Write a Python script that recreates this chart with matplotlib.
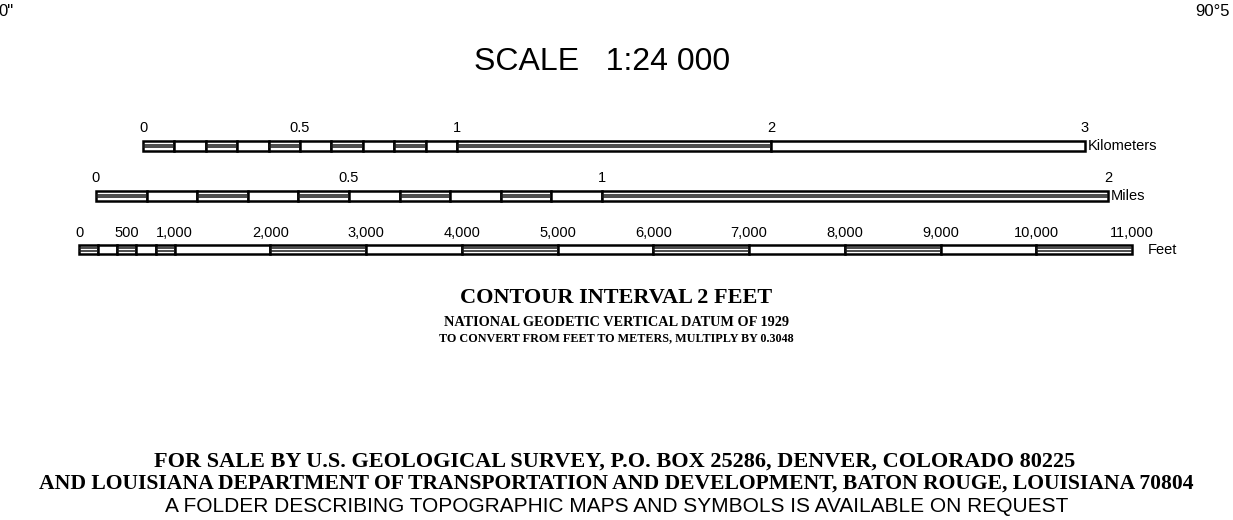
import matplotlib
matplotlib.use("Agg")
import matplotlib.pyplot as plt
from matplotlib.patches import Rectangle
from matplotlib.transforms import ScaledTranslation

W, H = 1233, 520

# scale bar data (in each bar's own units)
km_ticks = [0, 0.5, 1, 2, 3]
km_tick_labels = ["0", "0.5", "1", "2", "3"]
km_edges = [0, 0.1, 0.2, 0.3, 0.4, 0.5, 0.6, 0.7, 0.8, 0.9, 1, 2, 3]

mi_ticks = [0, 0.5, 1, 2]
mi_tick_labels = ["0", "0.5", "1", "2"]
mi_edges = [0, 0.1, 0.2, 0.3, 0.4, 0.5, 0.6, 0.7, 0.8, 0.9, 1, 2]

ft_ticks = [0, 500, 1000, 2000, 3000, 4000, 5000, 6000, 7000, 8000, 9000, 10000, 11000]
ft_tick_labels = ["0", "500", "1,000", "2,000", "3,000", "4,000", "5,000", "6,000",
                  "7,000", "8,000", "9,000", "10,000", "11,000"]
ft_edges = [0, 200, 400, 600, 800, 1000, 2000, 3000, 4000, 5000, 6000, 7000,
            8000, 9000, 10000, 11000]

fig = plt.figure(figsize=(W / 100, H / 100), dpi=100)
fig.patch.set_facecolor("white")
bg = fig.add_axes([0, 0, 1, 1])
bg.set_xlim(0, W)
bg.set_ylim(H, 0)
bg.axis("off")

sans = "Liberation Sans"
serif = "Liberation Serif"


def scale_bar(edges, ticks, labels, unit, x0, x1, ytop, height, unit_dx):
    # one axes per bar, positioned in pixels, data in map units
    ax = fig.add_axes([x0 / W, 1 - (ytop + height) / H, (x1 - x0) / W, height / H])
    ax.set_xlim(edges[0], edges[-1])
    ax.set_ylim(0, 1)
    ax.axis("off")
    for i in range(len(edges) - 1):
        a, b = edges[i], edges[i + 1]
        ax.add_patch(Rectangle((a, 0), b - a, 1, facecolor="white",
                               edgecolor="black", lw=1.8, clip_on=False))
        if i % 2 == 0:
            ax.hlines([0.37, 0.63], a, b, color="#1a1a1a", lw=1.1)
    for t, lab in zip(ticks, labels):
        ax.text(t, 1.6, lab, ha="center", va="bottom", fontsize=10.5,
                family=sans, clip_on=False)
    ax.text(edges[-1], 0.5, unit, ha="left", va="center", fontsize=10.5,
            family=sans, clip_on=False,
            transform=ax.transData + ScaledTranslation(unit_dx / 100, 0, fig.dpi_scale_trans))
    return ax


scale_bar(km_edges, km_ticks, km_tick_labels, "Kilometers", 143, 1085, 141, 10, 3)
scale_bar(mi_edges, mi_ticks, mi_tick_labels, "Miles", 96, 1108, 191, 10, 3)
scale_bar(ft_edges, ft_ticks, ft_tick_labels, "Feet", 79, 1132, 245, 9, 16)

bg.text(602, 62, "SCALE   1:24 000", ha="center", va="center", fontsize=23, family=sans)

bg.text(616, 298, "CONTOUR INTERVAL 2 FEET", ha="center", va="center",
        fontsize=16, family=serif, fontweight="bold")
bg.text(616, 322, "NATIONAL GEODETIC VERTICAL DATUM OF 1929", ha="center", va="center",
        fontsize=10.3, family=serif, fontweight="bold")
bg.text(616, 338, "TO CONVERT FROM FEET TO METERS, MULTIPLY BY 0.3048", ha="center", va="center",
        fontsize=8.7, family=serif, fontweight="bold")

bg.text(615, 462, "FOR SALE BY U.S. GEOLOGICAL SURVEY, P.O. BOX 25286, DENVER, COLORADO 80225",
        ha="center", va="center", fontsize=16, family=serif, fontweight="bold")
bg.text(616, 484, "AND LOUISIANA DEPARTMENT OF TRANSPORTATION AND DEVELOPMENT, BATON ROUGE, LOUISIANA 70804",
        ha="center", va="center", fontsize=15.6, family=serif, fontweight="bold")
bg.text(617, 506, "A FOLDER DESCRIBING TOPOGRAPHIC MAPS AND SYMBOLS IS AVAILABLE ON REQUEST",
        ha="center", va="center", fontsize=15, family=sans)

bg.text(-2, 12, '0"', ha="left", va="center", fontsize=12, family=sans)
bg.text(1195, 12, "90°5", ha="left", va="center", fontsize=12, family=sans, clip_on=False)

fig.savefig("out.png", dpi=100, facecolor="white")
